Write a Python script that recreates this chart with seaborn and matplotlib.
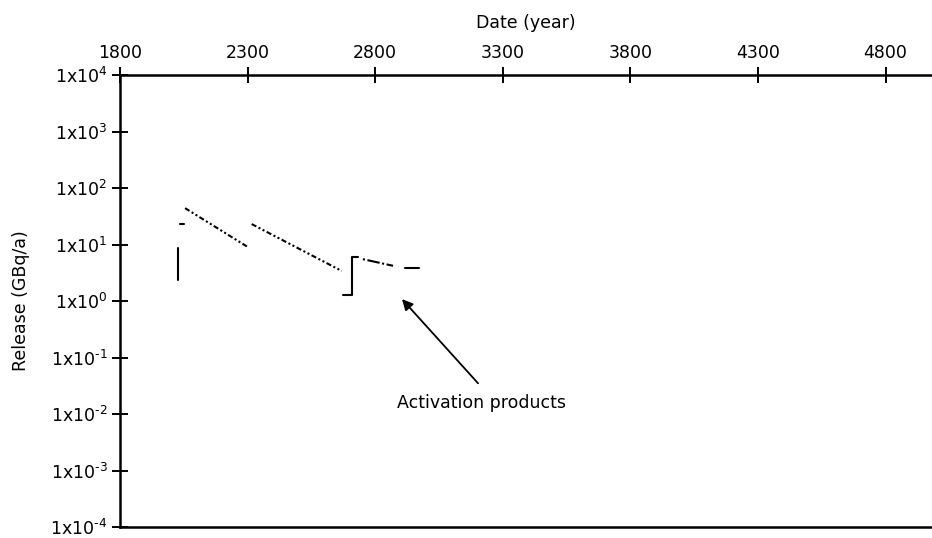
import numpy as np
import pandas as pd
import matplotlib
matplotlib.use("Agg")
import matplotlib.pyplot as plt
import seaborn as sns

# ---- data ----
seg_vertical_years = [2028, 2028]
seg_vertical_values = [2.4, 8.6]

seg_dash_years = [2036, 2051]
seg_dash_values = [22.8, 22.8]

seg_line1_years = [2055, 2303]
seg_line1_values = [44.0, 8.9]

seg_line2_years = [2316, 2669]
seg_line2_values = [23.0, 3.4]

seg_bracket_years = [2674, 2708, 2708, 2733]
seg_bracket_values = [1.28, 1.28, 6.1, 6.1]

seg_line3_years = [2752, 2870]
seg_line3_values = [5.5, 4.2]

seg_tail_years = [2917, 2972]
seg_tail_values = [3.8, 3.8]

x_ticks = [1800, 2300, 2800, 3300, 3800, 4300, 4800]
y_exponents = [4, 3, 2, 1, 0, -1, -2, -3, -4]

annotation_text = "Activation products"
arrow_target = (2905, 1.08)
arrow_start = (3203, 0.035)
text_pos = (3218, 0.0157)

segments = {
    "vertical": (seg_vertical_years, seg_vertical_values),
    "dash": (seg_dash_years, seg_dash_values),
    "line1": (seg_line1_years, seg_line1_values),
    "line2": (seg_line2_years, seg_line2_values),
    "bracket": (seg_bracket_years, seg_bracket_values),
    "line3": (seg_line3_years, seg_line3_values),
    "tail": (seg_tail_years, seg_tail_values),
}
rows = []
for name, (xs, ys) in segments.items():
    for i, (x, y) in enumerate(zip(xs, ys)):
        rows.append({"segment": name, "order": i, "year": x, "release": y})
df = pd.DataFrame(rows)

dash_styles = {
    "vertical": "",
    "dash": "",
    "line1": (2.5, 1.2, 1, 1.2, 1, 1.2),
    "line2": (2.5, 1.2, 1, 1.2, 1, 1.2),
    "bracket": "",
    "line3": (1, 1.2, 6, 1.2),
    "tail": "",
}

sns.set_theme(style="white")
plt.rcParams["font.family"] = ["DejaVu Sans"]
plt.rcParams["mathtext.fontset"] = "dejavusans"
plt.rcParams["axes.unicode_minus"] = False

fig = plt.figure(figsize=(9.32, 5.38), dpi=100)
ax = fig.add_axes([120 / 932, 1 - 527 / 538, 1 - 120 / 932, (527 - 75) / 538])

sns.lineplot(data=df, x="year", y="release", hue="segment", style="segment",
             palette={k: "black" for k in segments}, dashes=dash_styles,
             estimator=None, sort=False, units="segment", legend=False,
             linewidth=1.5, ax=ax)

ax.set_yscale("log")
ax.set_xlim(1800, 4982)
ax.set_ylim(1e-4, 1e4)

ax.xaxis.tick_top()
ax.xaxis.set_label_position("top")
ax.set_xticks(x_ticks)
ax.set_xticklabels([str(t) for t in x_ticks])
ax.set_yticks([10.0 ** e for e in y_exponents])
ax.set_yticklabels([r"1x10$^{\text{%d}}$" % e for e in y_exponents])
ax.yaxis.set_minor_locator(matplotlib.ticker.NullLocator())

ax.tick_params(axis="both", which="major", direction="inout", length=12,
               width=1.4, color="black", labelsize=12.5, labelcolor="black")
ax.tick_params(axis="x", pad=3)
ax.tick_params(axis="y", pad=3)
ax.tick_params(left=True, top=True, bottom=False, right=False)

ax.set_xlabel("Date (year)", fontsize=12.5, labelpad=12, color="black")
ax.set_ylabel("Release (GBq/a)", fontsize=12.5, labelpad=15, color="black")

for side in ["left", "top", "bottom"]:
    ax.spines[side].set_visible(True)
    ax.spines[side].set_color("black")
    ax.spines[side].set_linewidth(1.8)
ax.spines["right"].set_visible(False)
ax.grid(False)

ax.annotate("", xy=arrow_target, xytext=arrow_start,
            arrowprops=dict(arrowstyle="-|>", color="black", lw=1.3,
                            mutation_scale=16, shrinkA=0, shrinkB=0))
ax.text(text_pos[0], text_pos[1], annotation_text, ha="center", va="center",
        fontsize=12.5, color="black")

fig.savefig("out.png", dpi=100, facecolor="white")
